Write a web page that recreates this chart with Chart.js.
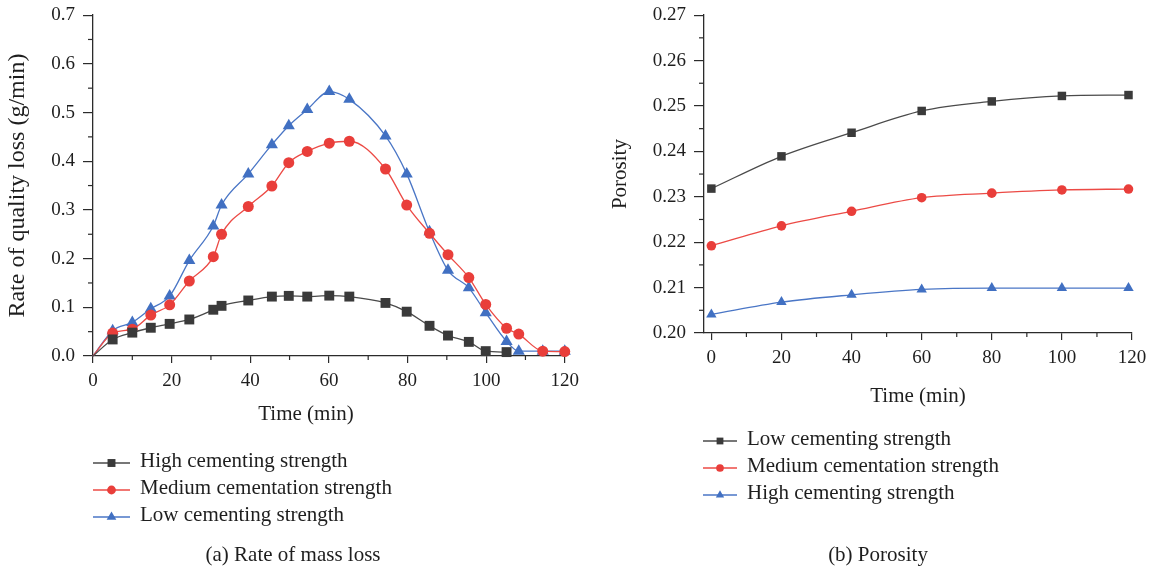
<!DOCTYPE html>
<html>
<head>
<meta charset="utf-8">
<script src="https://cdn.jsdelivr.net/npm/chart.js@4.4.1/dist/chart.umd.min.js"></script>
<style>
    html, body { margin: 0; padding: 0; background: #fff; }
    body { width: 1158px; height: 575px; position: relative; overflow: hidden; }
    canvas { position: absolute; top: 0; }
    #cMass { left: 0; }
    #cPoro { left: 590px; }
</style>
</head>
<body>
<canvas id="cMass" width="590" height="575"></canvas>
<canvas id="cPoro" width="568" height="575"></canvas>
<script>
//// (a) rate of mass loss
const timeA   = [0, 5, 10, 14.7, 19.5, 24.5, 30.6, 32.7, 39.5, 45.5, 49.8, 54.5, 60.1, 65.2, 74.4, 79.8, 85.6, 90.3, 95.6, 99.9, 105.2, 108.3, 114.4, 120];
const highA   = [0, 0.034, 0.048, 0.058, 0.066, 0.075, 0.095, 0.103, 0.114, 0.122, 0.1235, 0.122, 0.124, 0.122, 0.109, 0.091, 0.062, 0.042, 0.029, 0.010, 0.008];
const mediumA = [0, 0.047, 0.055, 0.084, 0.105, 0.154, 0.204, 0.250, 0.307, 0.349, 0.397, 0.420, 0.437, 0.441, 0.384, 0.310, 0.252, 0.208, 0.161, 0.106, 0.057, 0.045, 0.010, 0.009];
const lowA    = [0, 0.052, 0.069, 0.097, 0.123, 0.196, 0.267, 0.310, 0.374, 0.434, 0.473, 0.506, 0.543, 0.527, 0.452, 0.374, 0.255, 0.176, 0.140, 0.089, 0.030, 0.010, 0.010, 0.010];
const xTicksA = [0, 20, 40, 60, 80, 100, 120];
const yTicksA = [0, 0.1, 0.2, 0.3, 0.4, 0.5, 0.6, 0.7];

//// (b) porosity
const timeB   = [0, 20, 40, 60, 80, 100, 119];
const lowB    = [0.2318, 0.2389, 0.2441, 0.2489, 0.2510, 0.2522, 0.2524];
const mediumB = [0.2192, 0.2236, 0.2268, 0.2298, 0.2308, 0.2315, 0.2317];
const highB   = [0.2041, 0.2068, 0.2084, 0.2096, 0.2099, 0.2099, 0.2099];
const xTicksB = [0, 20, 40, 60, 80, 100, 120];
const yTicksB = [0.20, 0.21, 0.22, 0.23, 0.24, 0.25, 0.26, 0.27];

const serif = "'Liberation Serif', 'Times New Roman', serif";
const axisColor = '#2b2b2b';
const textColor = '#1e1e1e';
// [line, marker]
const cBlack = ['#4a4a4a', '#3a3a3a'], cRed = ['#ec4a45', '#e93e3a'], cBlue = ['#4a76c6', '#4170c2'];

function series(label, xs, ys, color, style, r, hideFirst) {
    return {
        label: label,
        data: ys.map((v, i) => ({x: xs[i], y: v})),
        borderColor: color[0],
        backgroundColor: color[1],
        borderWidth: 1.3,
        pointStyle: style,
        pointRadius: (c) => (hideFirst && c.dataIndex == 0) ? 0 : r,
        pointHoverRadius: r,
        pointBorderWidth: 0,
        legendRadius: r * 0.8,
        cubicInterpolationMode: 'monotone',
        clip: false,
    };
}

function axis(min, max, tickVals, fmt, tickLen, pad, size, title) {
    return {
        type: 'linear',
        min: min,
        max: max,
        afterBuildTicks: (s) => { s.ticks = tickVals.map(v => ({value: v})); },
        afterFit: (s) => { if (s.isHorizontal()) s.height = size; else s.width = size; },
        ticks: {
            color: textColor,
            font: {family: serif, size: 19, lineHeight: 0.75},
            padding: pad,
            callback: fmt,
        },
        grid: {drawOnChartArea: false, tickLength: tickLen, color: axisColor, lineWidth: 1.2},
        border: {color: axisColor, width: 1.3},
        title: title,
    };
}

// short unlabeled ticks half way between the labeled ones
const minorTicks = {
    id: 'minorTicks',
    afterDraw(chart) {
        const ctx = chart.ctx;
        ctx.save();
        ctx.strokeStyle = axisColor;
        ctx.lineWidth = 1.2;
        for (let scale of [chart.scales.x, chart.scales.y]) {
            const t = scale.ticks;
            for (let i = 0; i < t.length - 1; i++) {
                const p = scale.getPixelForValue((t[i].value + t[i + 1].value) / 2);
                ctx.beginPath();
                if (scale.isHorizontal()) { ctx.moveTo(p, scale.top); ctx.lineTo(p, scale.top + 4); }
                else { ctx.moveTo(scale.right - 5, p); ctx.lineTo(scale.right, p); }
                ctx.stroke();
            }
        }
        ctx.restore();
    }
};

// legend with line + marker, panel caption, optional free x title
const panelText = {
    id: 'panelText',
    afterDraw(chart, args, o) {
        const ctx = chart.ctx;
        ctx.save();
        ctx.font = '21px ' + serif;
        ctx.textBaseline = 'middle';
        chart.data.datasets.forEach((ds, i) => {
            const y = o.top + i * o.gap;
            ctx.strokeStyle = ds.borderColor;
            ctx.lineWidth = ds.borderWidth;
            ctx.beginPath();
            ctx.moveTo(o.lineX0, y);
            ctx.lineTo(o.lineX1, y);
            ctx.stroke();
            ctx.fillStyle = ds.backgroundColor;
            Chart.helpers.drawPoint(ctx, {pointStyle: ds.pointStyle, radius: ds.legendRadius, borderWidth: 0, rotation: 0}, (o.lineX0 + o.lineX1) / 2, y);
            ctx.fillStyle = textColor;
            ctx.textAlign = 'left';
            ctx.fillText(ds.label, o.textX, y - 1.5);
        });
        ctx.textAlign = 'center';
        ctx.fillText(o.caption, o.captionX, o.captionY);
        if (o.xTitle) ctx.fillText(o.xTitle, o.xTitleX, o.xTitleY);
        ctx.restore();
    }
};

window.addEventListener('load', () => {
    new Chart(document.getElementById('cMass'), {
        type: 'line',
        data: {
            datasets: [
                series('High cementing strength', timeA, highA, cBlack, 'rect', 7, true),
                series('Medium cementation strength', timeA, mediumA, cRed, 'circle', 5.5, true),
                series('Low cementing strength', timeA, lowA, cBlue, 'triangle', 7, true),
            ]
        },
        options: {
            responsive: false,
            animation: false,
            layout: {padding: {left: 0, top: 9, right: 25, bottom: 139}},
            scales: {
                x: axis(0, 120, xTicksA, v => v, 7, 11, 80, {display: false}),
                y: axis(0, 0.7, yTicksA, v => v.toFixed(1), 10, 8, 93, {
                    display: true, text: 'Rate of quality loss (g/min)', color: textColor,
                    font: {family: serif, size: 24, lineHeight: 1.1}, padding: {top: 5, bottom: 0}
                }),
            },
            plugins: {
                legend: {display: false},
                tooltip: {enabled: false},
                panelText: {
                    top: 463, gap: 27, lineX0: 93, lineX1: 130, textX: 140,
                    caption: '(a) Rate of mass loss', captionX: 293, captionY: 555,
                    xTitle: 'Time (min)', xTitleX: 306, xTitleY: 414,
                },
            },
        },
        plugins: [minorTicks, panelText],
    });

    new Chart(document.getElementById('cPoro'), {
        type: 'line',
        data: {
            datasets: [
                series('Low cementing strength', timeB, lowB, cBlack, 'rect', 6, false),
                series('Medium cementation strength', timeB, mediumB, cRed, 'circle', 4.8, false),
                series('High cementing strength', timeB, highB, cBlue, 'triangle', 6, false),
            ]
        },
        options: {
            responsive: false,
            animation: false,
            layout: {padding: {left: 0, top: 7, right: 26, bottom: 166}},
            scales: {
                x: axis(-2.1, 120, xTicksB, v => v, 7, 11, 76, {
                    display: true, text: 'Time (min)', color: textColor,
                    font: {family: serif, size: 21}, padding: {top: 0, bottom: 0}
                }),
                y: axis(0.20, 0.27, yTicksB, v => v.toFixed(2), 10, 8, 114, {
                    display: true, text: 'Porosity', color: textColor,
                    font: {family: serif, size: 21}, padding: {top: 18, bottom: 0}
                }),
            },
            plugins: {
                legend: {display: false},
                tooltip: {enabled: false},
                panelText: {
                    top: 441, gap: 27, lineX0: 113, lineX1: 147, textX: 157,
                    caption: '(b) Porosity', captionX: 288, captionY: 555,
                },
            },
        },
        plugins: [minorTicks, panelText],
    });
})
</script>
</body>
</html>
